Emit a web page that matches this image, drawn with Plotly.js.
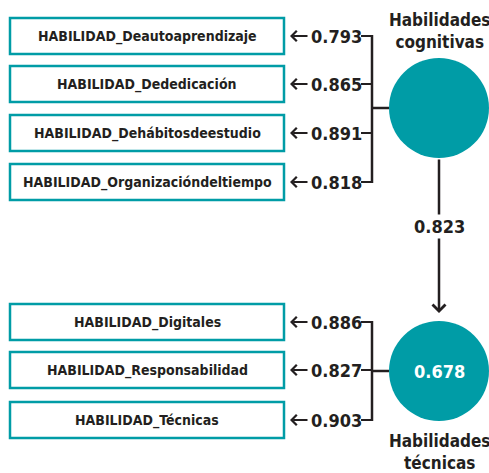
<!DOCTYPE html>
<html>
<head>
<meta charset="utf-8">
<script src="https://cdn.plot.ly/plotly-3.0.1.min.js"></script>
<style>html,body{margin:0;padding:0;background:#fff;}</style>
</head>
<body>
<div id="chart" style="width:489px;height:473px"></div>
<script>
// ---- data ----
const indicatorsCog = ['HABILIDAD_Deautoaprendizaje','HABILIDAD_Dededicación','HABILIDAD_Dehábitosdeestudio','HABILIDAD_Organizacióndeltiempo'];
const loadingsCog = [0.793, 0.865, 0.891, 0.818];
const indicatorsTec = ['HABILIDAD_Digitales','HABILIDAD_Responsabilidad','HABILIDAD_Técnicas'];
const loadingsTec = [0.886, 0.827, 0.903];
const latentNames = ['Habilidades<br>cognitivas', 'Habilidades<br>técnicas'];
const pathCoef = [0.823];
const r2Tec = [0.678];

// ---- layout geometry ----
const TEAL = '#009ca6';
const INK = '#231f20';
const FONT = '"DejaVu Sans Condensed", "Roboto", sans-serif';
const boxX0 = 10, boxX1 = 284, boxH = 36;
const cogY = [36, 84, 133, 182];
const tecY = [322, 370, 420];
const arrowTip = 290, arrowTail = 309, numX = 336, tickX0 = 361, bracketX = 372;
const circ = [{cx: 439, cy: 108, r: 50}, {cx: 439, cy: 371, r: 50}];

const shapes = [];
const annotations = [];

function block(names, vals, ys, c) {
  names.forEach((n, i) => {
    const y = ys[i];
    shapes.push({type: 'rect', xref: 'x', yref: 'y', x0: boxX0, x1: boxX1, y0: y - boxH / 2, y1: y + boxH / 2,
      line: {color: TEAL, width: 2.5}, fillcolor: 'rgba(0,0,0,0)'});
    annotations.push({x: (boxX0 + boxX1) / 2, y: y, xref: 'x', yref: 'y', text: '<b>' + n + '</b>', showarrow: false,
      font: {family: FONT, size: 14, color: INK}});
    annotations.push({x: arrowTip, y: y, ax: arrowTail, ay: y, xref: 'x', yref: 'y', axref: 'x', ayref: 'y', text: '',
      showarrow: true, arrowhead: 4, arrowsize: 1, arrowwidth: 2, arrowcolor: INK, standoff: 0});
    annotations.push({x: numX, y: y, xref: 'x', yref: 'y', text: '<b>' + vals[i].toFixed(3) + '</b>', showarrow: false,
      font: {family: FONT, size: 18, color: INK}});
    shapes.push({type: 'line', xref: 'x', yref: 'y', x0: tickX0, x1: bracketX, y0: y, y1: y, line: {color: INK, width: 2}});
  });
  shapes.push({type: 'line', xref: 'x', yref: 'y', x0: bracketX, x1: bracketX, y0: ys[0] - 1, y1: ys[ys.length - 1] + 1, line: {color: INK, width: 2.5}});
  shapes.push({type: 'line', xref: 'x', yref: 'y', x0: bracketX, x1: c.cx - c.r, y0: c.cy, y1: c.cy, line: {color: INK, width: 2.5}});
  shapes.push({type: 'circle', xref: 'x', yref: 'y', x0: c.cx - c.r, x1: c.cx + c.r, y0: c.cy - c.r, y1: c.cy + c.r,
    line: {width: 0}, fillcolor: TEAL});
}
block(indicatorsCog, loadingsCog, cogY, circ[0]);
block(indicatorsTec, loadingsTec, tecY, circ[1]);

// structural path
annotations.push({x: circ[1].cx, y: circ[1].cy - circ[1].r - 8, ax: circ[0].cx, ay: circ[0].cy + circ[0].r,
  xref: 'x', yref: 'y', axref: 'x', ayref: 'y', text: '', showarrow: true, arrowhead: 4, arrowsize: 1, arrowwidth: 2.5,
  arrowcolor: INK, standoff: 0});
annotations.push({x: circ[0].cx, y: 226, xref: 'x', yref: 'y', text: '<b>' + pathCoef[0].toFixed(3) + '</b>', showarrow: false,
  bgcolor: '#ffffff', font: {family: FONT, size: 18, color: INK}});
// R2 inside circle
annotations.push({x: circ[1].cx, y: circ[1].cy, xref: 'x', yref: 'y', text: '<b>' + r2Tec[0].toFixed(3) + '</b>', showarrow: false,
  font: {family: FONT, size: 18, color: '#ffffff'}});
// latent labels
annotations.push({x: circ[0].cx, y: 31, xref: 'x', yref: 'y', text: '<b>' + latentNames[0] + '</b>', showarrow: false,
  font: {family: FONT, size: 17, color: INK}});
annotations.push({x: circ[1].cx, y: 452, xref: 'x', yref: 'y', text: '<b>' + latentNames[1] + '</b>', showarrow: false,
  font: {family: FONT, size: 17, color: INK}});

const layout = {
  width: 489, height: 473,
  margin: {l: 0, r: 0, t: 0, b: 0},
  paper_bgcolor: '#ffffff', plot_bgcolor: '#ffffff',
  xaxis: {range: [0, 489], visible: false, fixedrange: true},
  yaxis: {range: [473, 0], visible: false, fixedrange: true},
  shapes: shapes, annotations: annotations, showlegend: false
};
Plotly.newPlot('chart', [{x: [], y: [], type: 'scatter', mode: 'markers', hoverinfo: 'skip'}], layout, {displayModeBar: false, staticPlot: true});
</script>
</body>
</html>
